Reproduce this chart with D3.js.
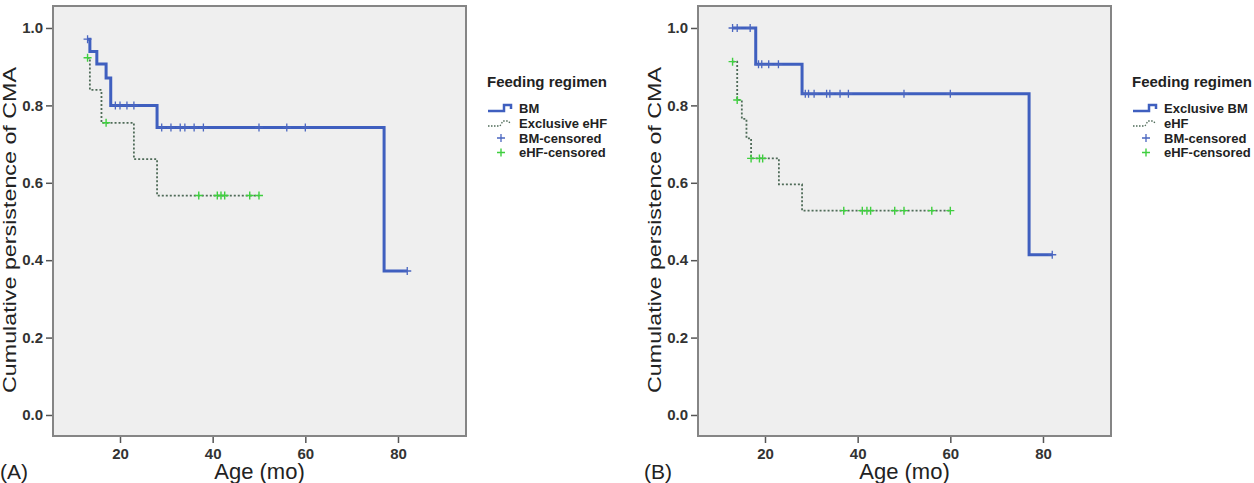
<!DOCTYPE html>
<html><head><meta charset="utf-8">
<script src="https://cdn.jsdelivr.net/npm/d3@7/dist/d3.min.js"></script>
<style>
html,body{margin:0;padding:0;background:#fff;}
svg{display:block;font-family:"Liberation Sans",Arial,sans-serif;}
</style></head>
<body>
<svg id="chart" width="1254" height="483"></svg>
<script>
// ---- data ----
const xTickValues = [20, 40, 60, 80];
const yTickValues = [0.0, 0.2, 0.4, 0.6, 0.8, 1.0];

// Panel A
const bmA_times = [13, 13.5, 15, 17, 18, 28, 77];
const bmA_surv  = [0.971, 0.939, 0.907, 0.871, 0.800, 0.743, 0.372];
const bmA_end   = 82;
const bmA_cens  = [13, 19, 20, 21.5, 23, 29, 31, 33, 34, 36, 38, 50, 56, 60, 82];

const ehfA_times = [13, 13.5, 16, 23, 28];
const ehfA_surv  = [0.923, 0.840, 0.755, 0.661, 0.567];
const ehfA_end   = 50;
const ehfA_cens  = [13, 17, 37, 41, 41.8, 42.6, 48, 50];

// Panel B
const bmB_times = [13, 18, 28, 77];
const bmB_surv  = [1.000, 0.906, 0.830, 0.414];
const bmB_end   = 82;
const bmB_cens  = [13, 14, 16.8, 18.6, 19.3, 20.8, 22.9, 28.7, 29.4, 30.6, 33.3, 34, 36.2, 38, 50, 60, 82];

const ehfB_times = [13, 14, 15, 16, 17, 23, 28];
const ehfB_surv  = [0.913, 0.814, 0.765, 0.715, 0.663, 0.596, 0.528];
const ehfB_end   = 60;
const ehfB_cens  = [13, 14, 17, 18.8, 19.5, 37, 41, 42, 42.8, 48, 50, 56, 60];

const legendA = ["BM", "Exclusive eHF", "BM-censored", "eHF-censored"];
const legendB = ["Exclusive BM", "eHF", "BM-censored", "eHF-censored"];

// ---- styles / layout ----
const BLUE = "#3f5fbf", GREEN = "#3fcf3f", DOT = "#4f6b58";
const svg = d3.select("#chart");

const panels = [
  {left: 53, right: 466, tag: "(A)", tagX: 0, legend: legendA,
   bm: {t: bmA_times, s: bmA_surv, end: bmA_end, c: bmA_cens},
   ehf: {t: ehfA_times, s: ehfA_surv, end: ehfA_end, c: ehfA_cens}},
  {left: 698, right: 1111, tag: "(B)", tagX: 644, legend: legendB,
   bm: {t: bmB_times, s: bmB_surv, end: bmB_end, c: bmB_cens},
   ehf: {t: ehfB_times, s: ehfB_surv, end: ehfB_end, c: ehfB_cens}}
];
const TOP = 6, BOTTOM = 436;

function stepValue(d, t) {
  let v = d.s[0];
  for (let i = 0; i < d.t.length; i++) if (d.t[i] <= t) v = d.s[i];
  return v;
}

panels.forEach(p => {
  const x = d3.scaleLinear().domain([5.54, 94.68]).range([p.left, p.right]);
  const y = d3.scaleLinear().domain([-0.0543, 1.0568]).range([BOTTOM, TOP]);
  const g = svg.append("g");

  g.append("rect").attr("x", p.left).attr("y", TOP)
    .attr("width", p.right - p.left).attr("height", BOTTOM - TOP)
    .attr("fill", "#efefef").attr("stroke", "#858585").attr("stroke-width", 2);

  // axes
  const yAxis = d3.axisLeft(y).tickValues(yTickValues).tickFormat(d3.format(".1f"))
    .tickSize(6).tickPadding(3);
  const ya = g.append("g").attr("transform", `translate(${p.left - 1},0)`).call(yAxis);
  const xAxis = d3.axisBottom(x).tickValues(xTickValues).tickSize(6).tickPadding(5);
  const xa = g.append("g").attr("transform", `translate(0,${BOTTOM + 1})`).call(xAxis);
  [ya, xa].forEach(a => {
    a.select(".domain").remove();
    a.selectAll(".tick line").attr("stroke", "#555").attr("stroke-width", 1.5);
    a.selectAll(".tick text").attr("fill", "#333").style("font-size", "15px")
      .style("font-weight", "bold").style("font-family", "'Liberation Sans',Arial,sans-serif");
  });

  // titles
  g.append("text").attr("x", (p.left + p.right) / 2).attr("y", 479)
    .attr("text-anchor", "middle").attr("font-size", 22).attr("fill", "#222")
    .text("Age (mo)");
  g.append("text").attr("transform", `translate(${p.left - 37},230) rotate(-90)`)
    .attr("text-anchor", "middle").attr("font-size", 19).attr("fill", "#222")
    .attr("textLength", 326).attr("lengthAdjust", "spacingAndGlyphs")
    .text("Cumulative persistence of CMA");
  g.append("text").attr("x", p.tagX).attr("y", 479).attr("font-size", 21)
    .attr("fill", "#222").text(p.tag);

  // curves
  const line = d3.line().x(d => x(d[0])).y(d => y(d[1])).curve(d3.curveStepAfter);
  const ptsE = p.ehf.t.map((t, i) => [t, p.ehf.s[i]]).concat([[p.ehf.end, p.ehf.s[p.ehf.s.length - 1]]]);
  g.append("path").attr("d", line(ptsE)).attr("fill", "none")
    .attr("stroke", DOT).attr("stroke-width", 1.8).attr("stroke-dasharray", "2,2");
  const ptsB = p.bm.t.map((t, i) => [t, p.bm.s[i]]).concat([[p.bm.end, p.bm.s[p.bm.s.length - 1]]]);
  g.append("path").attr("d", line(ptsB)).attr("fill", "none")
    .attr("stroke", BLUE).attr("stroke-width", 3);

  // censor marks
  const plus = (cx, cy) =>
    `M${cx - 4},${cy}H${cx + 4}M${cx},${cy - 4}V${cy + 4}`;
  g.append("g").selectAll("path").data(p.ehf.c).join("path")
    .attr("d", t => plus(x(t), y(stepValue(p.ehf, t))))
    .attr("stroke", GREEN).attr("stroke-width", 1.4).attr("fill", "none");
  g.append("g").selectAll("path").data(p.bm.c).join("path")
    .attr("d", t => plus(x(t), y(stepValue(p.bm, t))))
    .attr("stroke", "#4a66c0").attr("stroke-width", 1.3).attr("fill", "none");

  // legend
  const lx = p.right + 21;
  g.append("text").attr("x", lx).attr("y", 87).attr("font-size", 15)
    .attr("font-weight", "bold").attr("fill", "#222").text("Feeding regimen");
  const rows = [108, 123, 138, 152.5];
  const tx = lx + 32;
  p.legend.forEach((lab, i) => {
    g.append("text").attr("x", tx).attr("y", rows[i] + 4.5).attr("font-size", 13)
      .attr("font-weight", "bold").attr("fill", "#222").text(lab);
  });
  const ix = lx + 1;
  g.append("path").attr("d", `M${ix},${rows[0] + 3}H${ix + 16}V${rows[0] - 3}H${ix + 23}V${rows[0] + 1}`)
    .attr("fill", "none").attr("stroke", BLUE).attr("stroke-width", 2.5);
  g.append("path").attr("d", `M${ix},${rows[1] + 3}H${ix + 12}L${ix + 15},${rows[1] - 2}H${ix + 20}L${ix + 23},${rows[1] + 1}`)
    .attr("fill", "none").attr("stroke", DOT).attr("stroke-width", 1.3).attr("stroke-dasharray", "1.5,1.5");
  const pc = ix + 13;
  g.append("path").attr("d", plus(pc, rows[2])).attr("stroke", "#4a66c0").attr("stroke-width", 1.3);
  g.append("path").attr("d", plus(pc, rows[3])).attr("stroke", GREEN).attr("stroke-width", 1.4);
});
</script>
</body></html>
